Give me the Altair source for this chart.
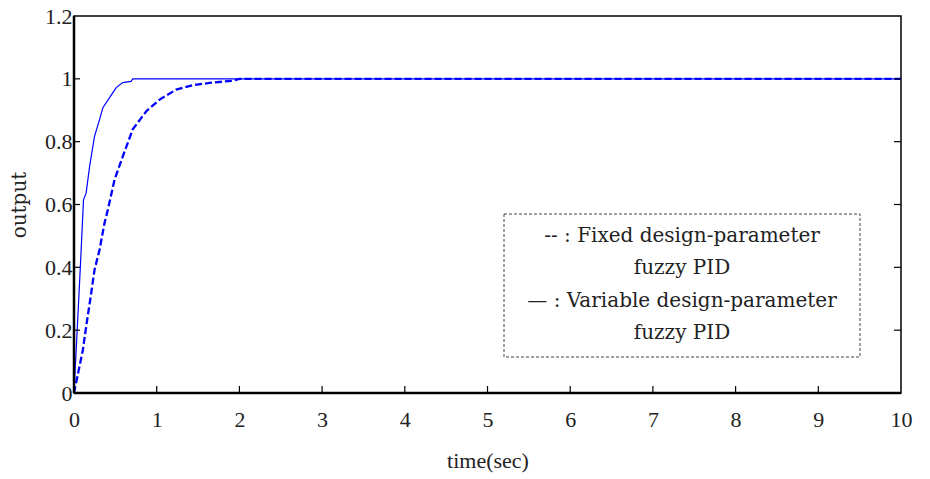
import altair as alt
import pandas as pd

# Step response of the two fuzzy PID controllers
t_variable = [0.0, 0.075, 0.115, 0.147, 0.188, 0.248, 0.309, 0.349, 0.43, 0.51, 0.59, 0.69, 0.71, 10.0]
y_variable = [0.0, 0.392, 0.615, 0.637, 0.72, 0.817, 0.87, 0.908, 0.94, 0.972, 0.988, 0.992, 1.0, 1.0]

t_fixed = [0.0, 0.107, 0.147, 0.208, 0.248, 0.309, 0.369, 0.41, 0.49, 0.59, 0.71, 0.874, 1.035,
           1.237, 1.44, 1.64, 1.92, 2.0, 10.0]
y_fixed = [0.0, 0.137, 0.211, 0.318, 0.392, 0.456, 0.541, 0.584, 0.679, 0.753, 0.839, 0.897, 0.934,
           0.966, 0.98, 0.987, 0.994, 1.0, 1.0]

x_ticks = [0, 1, 2, 3, 4, 5, 6, 7, 8, 9, 10]
y_ticks = [0, 0.2, 0.4, 0.6, 0.8, 1, 1.2]
x_inner_ticks = [1, 2, 3, 4, 5, 6, 7, 8, 9]
y_inner_ticks = [0.2, 0.4, 0.6, 0.8, 1]

legend_lines = ["-- : Fixed design-parameter", "fuzzy PID",
                "— : Variable design-parameter", "fuzzy PID"]

W, H = 827, 377
FONT = "Liberation Serif, DejaVu Serif, serif"
WIDE_FONT = "DejaVu Serif, serif"
BLUE = "#0000ff"

xs = alt.Scale(domain=[0, 10], nice=False, zero=False)
ys = alt.Scale(domain=[0, 1.2], nice=False, zero=False)

df_var = pd.DataFrame({"t": t_variable, "y": y_variable})
df_fix = pd.DataFrame({"t": t_fixed, "y": y_fixed})

x_axis = alt.Axis(values=x_ticks, ticks=False, domain=False, grid=False, labelFlush=False,
                  labelExpr="format(datum.value, '~g')",
                  labelFont=FONT, labelFontSize=22, labelColor="#222", labelPadding=16,
                  title="time(sec)", titleFont=FONT, titleFontSize=22, titleFontWeight="normal",
                  titleColor="#222", titlePadding=20)
y_axis = alt.Axis(values=y_ticks, ticks=False, domain=False, grid=False, labelFlush=False,
                  labelExpr="format(datum.value, '~g')",
                  labelFont=FONT, labelFontSize=22, labelColor="#222", labelPadding=2,
                  title="output", titleFont=WIDE_FONT, titleFontSize=20, titleFontWeight="normal",
                  titleColor="#222", titlePadding=15)

solid = alt.Chart(df_var).mark_line(color=BLUE, strokeWidth=1.2).encode(
    x=alt.X("t:Q", scale=xs, axis=x_axis),
    y=alt.Y("y:Q", scale=ys, axis=y_axis),
)
dashed = alt.Chart(df_fix).mark_line(color=BLUE, strokeWidth=2.3, strokeDash=[7, 3]).encode(
    x=alt.X("t:Q", scale=xs),
    y=alt.Y("y:Q", scale=ys),
)

# inward-pointing tick marks on the bottom, left and right edges
bottom_ticks = alt.Chart(pd.DataFrame({"t": x_inner_ticks})).mark_rule(color="black", strokeWidth=1.2).encode(
    x=alt.X("t:Q", scale=xs), y=alt.value(H), y2=alt.value(H - 7))
left_ticks = alt.Chart(pd.DataFrame({"y": y_inner_ticks})).mark_rule(color="black", strokeWidth=1.2).encode(
    y=alt.Y("y:Q", scale=ys), x=alt.value(0), x2=alt.value(6))
right_ticks = alt.Chart(pd.DataFrame({"y": y_inner_ticks})).mark_rule(color="black", strokeWidth=1.2).encode(
    y=alt.Y("y:Q", scale=ys), x=alt.value(W), x2=alt.value(W - 7))

# heavier left and bottom axis lines
left_edge = alt.Chart(pd.DataFrame({"a": [0]})).mark_rule(color="black", strokeWidth=2.5).encode(
    x=alt.value(0), y=alt.value(0), y2=alt.value(H))
bottom_edge = alt.Chart(pd.DataFrame({"a": [0]})).mark_rule(color="black", strokeWidth=2.5).encode(
    x=alt.value(0), x2=alt.value(W), y=alt.value(H))

# legend box with dashed border
legend_box = alt.Chart(pd.DataFrame({"a": [0]})).mark_rect(
    fill="white", stroke="#444", strokeWidth=1, strokeDash=[3, 2]).encode(
    x=alt.value(430), x2=alt.value(786), y=alt.value(198), y2=alt.value(341))

legend_y = [220, 252, 285, 317]
legend_df = pd.DataFrame({"txt": legend_lines, "py": legend_y})
legend_text = alt.Chart(legend_df).mark_text(
    font=WIDE_FONT, fontSize=20, color="#222", align="center", baseline="middle").encode(
    x=alt.value(608), y=alt.Y("py:Q", scale=None), text="txt:N")

chart = alt.layer(
    solid, dashed, bottom_ticks, left_ticks, right_ticks, left_edge, bottom_edge,
    legend_box, legend_text
).properties(
    width=W, height=H,
    background="white",
    autosize=alt.AutoSizeParams(type="none"),
    padding={"left": 74, "top": 16, "right": 29, "bottom": 86},
).configure_view(
    stroke="black", strokeWidth=1.5
)

chart.save("out.html", embed_options={"renderer": "svg", "actions": False})
